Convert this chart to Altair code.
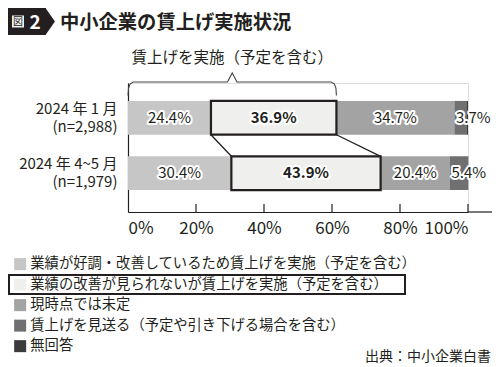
import altair as alt
import pandas as pd

# ---------------- data ----------------
rows = ["2024 年 1 月|(n=2,988)", "2024 年 4~5 月|(n=1,979)"]
categories = [
    "業績が好調・改善しているため賃上げを実施（予定を含む）",
    "業績の改善が見られないが賃上げを実施（予定を含む）",
    "現時点では未定",
    "賃上げを見送る（予定や引き下げる場合を含む）",
    "無回答",
]
values_jan = [24.4, 36.9, 34.7, 3.7, 0.3]
values_apr = [30.4, 43.9, 20.4, 5.4, 0.0]
colors = ["#c6c6c6", "#efefed", "#a3a3a3", "#707070", "#3b3b3b"]
x_ticks = [0, 20, 40, 60, 80, 100]
tick_marks = [20, 40, 60, 80, 100]

title_text = "中小企業の賃上げ実施状況"
badge_char = "図"
badge_num = "2"
bracket_text = "賃上げを実施（予定を含む）"
source_text = "出典：中小企業白書"

# ---------------- styling / layout ----------------
FONT = "Noto Sans CJK JP"
INK = "#231f20"
W, H = 340, 129
P_IN, P_OUT, ALIGN = 0.39, 0.36, 0.45
step = H / (len(rows) - P_IN + 2 * P_OUT)
y0 = (H - step * (len(rows) - P_IN)) * ALIGN
band1_bottom = y0 + step * (1 - P_IN)
band2_top = y0 + step

# ---------------- tables ----------------
recs = []
for r, vals in zip(rows, [values_jan, values_apr]):
    s = 0.0
    for i, (c, v) in enumerate(zip(categories, vals)):
        recs.append({"row": r, "cat": c, "ci": i, "value": v, "start": s, "end": s + v,
                     "mid": s + v / 2, "label": f"{v:.1f}%"})
        s += v
df = pd.DataFrame(recs)

yscale = alt.Scale(domain=rows, paddingInner=P_IN, paddingOuter=P_OUT, align=ALIGN)
ydef = alt.Y("row:N", scale=yscale, sort=rows,
             axis=alt.Axis(title=None, ticks=False, labelExpr="split(datum.value, '|')",
                           labelFont=FONT, labelFontSize=15, labelLineHeight=18,
                           labelOffset=-9, labelPadding=11, labelColor=INK,
                           domainColor=INK, domainWidth=1.2))
xscale = alt.Scale(domain=[0, 100], nice=False, zero=False)
xdef = alt.X("start:Q", scale=xscale,
             axis=alt.Axis(title=None, values=x_ticks, labelExpr="datum.value + '%'",
                           ticks=False, grid=False, labelFont=FONT, labelFontSize=17,
                           labelPadding=8, labelColor=INK, domainColor=INK, domainWidth=1.2))

base = alt.Chart(df)
bars = base.mark_bar().encode(
    x=xdef, x2="end:Q", y=ydef,
    color=alt.Color("cat:N", scale=alt.Scale(domain=categories, range=colors),
                    legend=alt.Legend(orient="none", legendX=-115, legendY=174, title=None,
                                      symbolType="square", symbolSize=144, symbolStrokeWidth=0,
                                      symbolOpacity=1, labelFont=FONT, labelFontSize=14.3,
                                      labelColor=INK, labelOffset=3, rowPadding=5.5,
                                      labelLimit=0, padding=0, direction="vertical")),
)
outline = base.transform_filter("datum.ci == 1").mark_bar(
    fillOpacity=0, stroke=INK, strokeWidth=2.2).encode(
    x=alt.X("start:Q", scale=xscale), x2="end:Q", y=alt.Y("row:N", scale=yscale, sort=rows))

# links between boxed segments
b0 = df[(df.row == rows[0]) & (df.ci == 1)].iloc[0]
b1 = df[(df.row == rows[1]) & (df.ci == 1)].iloc[0]
links_df = pd.DataFrame({"a": [b0.start, b0.end], "b": [b1.start, b1.end]})
links = alt.Chart(links_df).mark_rule(color=INK, strokeWidth=1.3).encode(
    x=alt.X("a:Q", scale=xscale), x2="b:Q",
    y=alt.value(band1_bottom), y2=alt.value(band2_top))


def labels(filter_expr, align, dx, weight):
    sub = base.transform_filter(filter_expr)
    enc = dict(x=alt.X(("mid" if align == "center" else "start") + ":Q", scale=xscale),
               y=alt.Y("row:N", scale=yscale, sort=rows), text="label:N")
    kw = dict(align=align, dx=dx, baseline="middle", font=FONT, fontSize=15, fontWeight=weight)
    halo = sub.mark_text(stroke="white", strokeWidth=4, strokeJoin="round", color="white", **kw).encode(**enc)
    txt = sub.mark_text(color=INK, **kw).encode(**enc)
    return [halo, txt]


lab = []
lab += labels("datum.value >= 8 && datum.ci != 1", "center", 0, "normal")
lab += labels("datum.ci == 1", "center", 0, "bold")
lab += labels("datum.value < 8 && datum.value >= 1", "left", 1.5, "normal")

ticks = alt.Chart(pd.DataFrame({"t": tick_marks})).mark_rule(color=INK, strokeWidth=1.2).encode(
    x=alt.X("t:Q", scale=xscale), y=alt.value(H - 8), y2=alt.value(H))
axis_ext = alt.Chart(pd.DataFrame({"t": [0]})).mark_rule(color=INK, strokeWidth=1.2).encode(
    x=alt.value(W), x2=alt.value(W + 24), y=alt.value(H))

# bracket over "賃上げを実施" (first two categories of row 1)
end = float(b0.end)
mid = end / 2
bx = [0, 0.15, 0.6, 1.5, mid - 1.4, mid, mid + 1.4, end - 1.5, end - 0.6, end - 0.15, end]
by = [12.5, 5, 1, -1, -1, -10, -1, -1, 1, 5, 12.5]
bracket = alt.Chart(pd.DataFrame({"x": bx, "y": by, "i": range(len(bx))})).mark_line(
    color="#444", strokeWidth=1.1).encode(
    x=alt.X("x:Q", scale=xscale),
    y=alt.Y("y:Q", scale=alt.Scale(domain=[0, 100], range=[0, 100], zero=False, nice=False), axis=None),
    order="i:Q")
bracket_lbl = alt.Chart(pd.DataFrame({"x": [mid], "t": [bracket_text]})).mark_text(
    font=FONT, fontSize=15.5, color=INK, baseline="middle").encode(
    x=alt.X("x:Q", scale=xscale), y=alt.value(-25), text="t:N")

one = pd.DataFrame({"k": [0]})
badge = alt.Chart(one).mark_rect(color=INK).encode(
    x=alt.value(-120), x2=alt.value(-82), y=alt.value(-75), y2=alt.value(-48))
arrow = alt.Chart(one).mark_point(shape="M0,-1L0.7,0L0,1Z", size=729, filled=True, opacity=1,
                                  color=INK).encode(x=alt.value(-82.5), y=alt.value(-61.5))
badge_box = alt.Chart(one).mark_rect(color="#f2f2f2").encode(
    x=alt.value(-116), x2=alt.value(-104), y=alt.value(-67.5), y2=alt.value(-55.5))
badge_c = alt.Chart(one).mark_text(text=badge_char, font=FONT, fontSize=10, color=INK,
                                   baseline="middle").encode(x=alt.value(-110), y=alt.value(-61.5))
badge_n = alt.Chart(one).mark_text(text=badge_num, font=FONT, fontSize=19, fontWeight="bold",
                                   color="white", baseline="middle").encode(x=alt.value(-93), y=alt.value(-60.5))
title = alt.Chart(one).mark_text(text=title_text, font=FONT, fontSize=19.3, fontWeight="bold",
                                 color=INK, align="left", baseline="middle").encode(
    x=alt.value(-68), y=alt.value(-60.5))
leg_box = alt.Chart(one).mark_rect(fillOpacity=0, stroke=INK, strokeWidth=2).encode(
    x=alt.value(-119), x2=alt.value(277), y=alt.value(192), y2=alt.value(211))
source = alt.Chart(one).mark_text(text=source_text, font=FONT, fontSize=14, color=INK,
                                  align="right", baseline="middle").encode(
    x=alt.value(363), y=alt.value(274))

main = alt.layer(bars, outline, links, *lab, ticks, axis_ext, bracket_lbl,
                 badge, arrow, badge_box, badge_c, badge_n, title, leg_box, source)
chart = alt.layer(main, bracket).resolve_scale(y="independent").properties(
    width=W, height=H,
    autosize=alt.AutoSizeParams(type="none"),
    padding={"left": 120, "top": 75, "right": 484 - 120 - W, "bottom": 155},
).configure_view(stroke=None).configure(font=FONT)

chart.save("out.html", embed_options={"renderer": "svg", "actions": False})
